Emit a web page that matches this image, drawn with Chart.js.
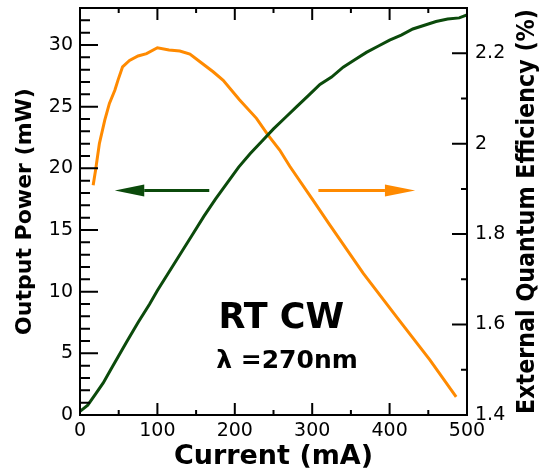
<!DOCTYPE html>
<html><head><meta charset="utf-8">
<script src="https://cdn.jsdelivr.net/npm/chart.js@4.4.1/dist/chart.umd.min.js"></script>
<style>html,body{margin:0;padding:0;background:#fff;}</style>
</head><body>
<canvas id="c" width="550" height="470"></canvas>
<script>
// ---- data ----
const currentP = [0,10,20,30,40,50,60,75,90,100,115,130,145,160,175,190,205,220,235,250,265,280,295,310,325,340,355,370,385,400,415,430,445,460,475,490,500];
const powerP   = [0.3,0.8,1.7,2.6,3.7,4.8,5.9,7.5,9.0,10.1,11.6,13.1,14.6,16.1,17.5,18.8,20.1,21.2,22.2,23.2,24.1,25.0,25.9,26.8,27.4,28.2,28.8,29.4,29.9,30.4,30.8,31.3,31.6,31.9,32.1,32.2,32.45];
const currentE = [17,20,25,32,38,45,49,55,64,75,86,100,115,129,142,155,172,185,206,228,243,258,271,301,322,366,409,452,486];
const eqe      = [1.908,1.94,2.0,2.052,2.089,2.118,2.14,2.17,2.184,2.194,2.199,2.212,2.207,2.205,2.198,2.181,2.159,2.14,2.097,2.056,2.019,1.986,1.95,1.875,1.822,1.713,1.617,1.522,1.44];
const xTicks   = [0,100,200,300,400,500];
const leftTicks  = [0,5,10,15,20,25,30];
const rightTicks = [1.4,1.6,1.8,2.0,2.2];
const xTitle = 'Current (mA)';
const leftTitle = 'Output Power (mW)';
const rightTitle = 'External Quantum Efficiency (%)';
const note1 = 'RT CW';
const note2 = 'λ =270nm';

const GREEN = '#0b4a0b';
const ORANGE = '#ff8a00';
const FONT = '"DejaVu Sans", "Liberation Sans", Arial, sans-serif';

const frameTicks = {
  id: 'frameTicks',
  afterDatasetsDraw(chart) {
    const {ctx, chartArea: a, scales: {x, y, y2}} = chart;
    ctx.save();
    ctx.strokeStyle = '#000';
    ctx.lineWidth = 2;
    ctx.beginPath();
    for (let v = 0; v <= 500; v += 50) {
      const px = x.getPixelForValue(v);
      const L = v % 100 === 0 ? 12 : 5;
      ctx.moveTo(px, a.bottom); ctx.lineTo(px, a.bottom - L);
      ctx.moveTo(px, a.top); ctx.lineTo(px, a.top + L);
    }
    for (let v = 0; v <= 33; v += 1) {
      const py = y.getPixelForValue(v);
      const L = v % 5 === 0 ? 18 : 10;
      ctx.moveTo(a.left, py); ctx.lineTo(a.left + L, py);
    }
    for (let i = 0; i <= 9; i++) {
      const v = 1.4 + i * 0.1;
      const py = y2.getPixelForValue(v);
      const L = i % 2 === 0 ? 15 : 6;
      ctx.moveTo(a.right, py); ctx.lineTo(a.right - L, py);
    }
    ctx.stroke();
    ctx.strokeRect(a.left, a.top, a.right - a.left, a.bottom - a.top);
    ctx.restore();
  }
};

function arrow(ctx, xTail, xBase, xTip, yy, color) {
  ctx.strokeStyle = color; ctx.fillStyle = color; ctx.lineWidth = 3;
  ctx.beginPath(); ctx.moveTo(xTail, yy); ctx.lineTo(xBase, yy); ctx.stroke();
  ctx.beginPath(); ctx.moveTo(xTip, yy); ctx.lineTo(xBase, yy - 6); ctx.lineTo(xBase, yy + 6); ctx.closePath(); ctx.fill();
}

const annot = {
  id: 'annot',
  afterDraw(chart) {
    const {ctx, chartArea: a, scales: {x, y}} = chart;
    ctx.save();
    const ay = y.getPixelForValue(18.2);
    arrow(ctx, x.getPixelForValue(167), x.getPixelForValue(83), x.getPixelForValue(45), ay, GREEN);
    arrow(ctx, x.getPixelForValue(308), x.getPixelForValue(394), x.getPixelForValue(433), ay, ORANGE);
    ctx.fillStyle = '#000';
    ctx.textBaseline = 'alphabetic';
    ctx.textAlign = 'center';
    ctx.font = 'bold 35px ' + FONT;
    ctx.fillText(note1, x.getPixelForValue(260), y.getPixelForValue(7.05));
    ctx.textAlign = 'left';
    ctx.font = 'bold 25px ' + FONT;
    ctx.fillText(note2, x.getPixelForValue(176), y.getPixelForValue(3.8));
    // right axis title, reading bottom to top
    ctx.translate(a.right + 61, (a.top + a.bottom) / 2);
    ctx.rotate(-Math.PI / 2);
    ctx.textAlign = 'center';
    ctx.textBaseline = 'middle';
    ctx.font = 'bold 24px ' + FONT;
    ctx.fillText(rightTitle, 0, 0, 405);
    ctx.restore();
  }
};

const fmt = v => String(+Number(v).toFixed(1));
const noPadV = s => { s.paddingTop = 0; s.paddingBottom = 0; };
const noPadH = s => { s.paddingLeft = 0; s.paddingRight = 0; };

new Chart(document.getElementById('c'), {
  type: 'scatter',
  data: {
    datasets: [
      {label: 'Output Power', data: currentP.map((c, i) => ({x: c, y: powerP[i]})), yAxisID: 'y',
       showLine: true, borderColor: GREEN, backgroundColor: GREEN, borderWidth: 3, pointRadius: 0, tension: 0, fill: false},
      {label: 'EQE', data: currentE.map((c, i) => ({x: c, y: eqe[i]})), yAxisID: 'y2',
       showLine: true, borderColor: ORANGE, backgroundColor: ORANGE, borderWidth: 3, pointRadius: 0, tension: 0, fill: false}
    ]
  },
  options: {
    responsive: false, animation: false, devicePixelRatio: 1,
    layout: {padding: {top: 8, left: 0, right: 0, bottom: 0}},
    plugins: {legend: {display: false}, tooltip: {enabled: false}},
    scales: {
      x: {
        type: 'linear', position: 'bottom', min: 0, max: 500,
        grid: {display: false, drawTicks: false}, border: {display: false},
        afterBuildTicks: s => { s.ticks = xTicks.map(v => ({value: v})); },
        ticks: {color: '#000', font: {family: FONT, size: 19}, padding: 5, maxRotation: 0, autoSkip: false, callback: fmt},
        title: {display: true, text: xTitle, color: '#000', font: {family: FONT, size: 27, weight: 'bold'}, padding: {top: 0, bottom: -3}},
        afterFit: s => { s.height = 55; noPadH(s); }
      },
      y: {
        type: 'linear', position: 'left', min: 0, max: 33,
        grid: {display: false, drawTicks: false}, border: {display: false},
        afterBuildTicks: s => { s.ticks = leftTicks.map(v => ({value: v})); },
        ticks: {color: '#000', font: {family: FONT, size: 19}, padding: 7, autoSkip: false, callback: fmt},
        title: {display: true, text: leftTitle, color: '#000', font: {family: FONT, size: 22, weight: 'bold'}, padding: {top: 12, bottom: 0}},
        afterFit: s => { s.width = 80; noPadV(s); }
      },
      y2: {
        type: 'linear', position: 'right', min: 1.4, max: 2.3,
        grid: {display: false, drawTicks: false}, border: {display: false},
        afterBuildTicks: s => { s.ticks = rightTicks.map(v => ({value: v})); },
        ticks: {color: '#000', font: {family: FONT, size: 19}, padding: 8, autoSkip: false, callback: fmt},
        afterFit: s => { s.width = 83; noPadV(s); }
      }
    }
  },
  plugins: [frameTicks, annot]
});
</script>
</body></html>
